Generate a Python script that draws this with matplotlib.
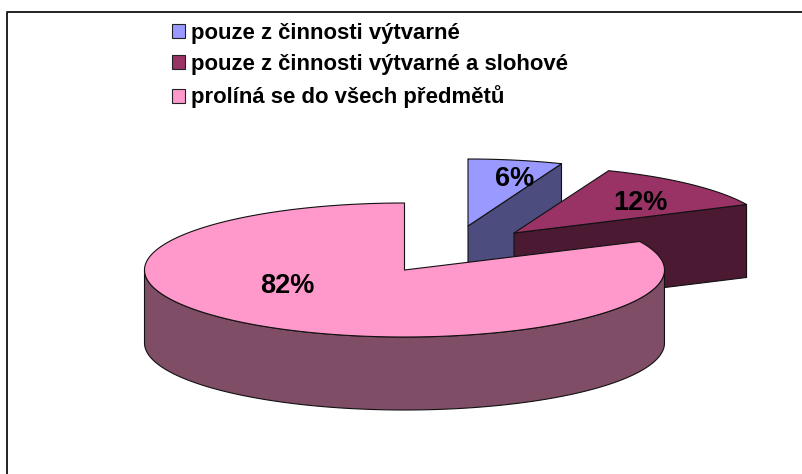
import numpy as np
import matplotlib
matplotlib.use("Agg")
import matplotlib.pyplot as plt
from matplotlib.patches import Patch

categories = ["pouze z činnosti výtvarné", "pouze z činnosti výtvarné a slohové", "prolíná se do všech předmětů"]
values = [6, 12, 82]
labels = ["6%", "12%", "82%"]
top_colors = ["#9999FF", "#993366", "#FF99CC"]
side_colors = ["#4C4C7F", "#4C1933", "#804D66"]

W, H = 803, 474
RADII_X = [254, 257, 260]
RY, DEPTH = 67, 73
apexes = [(468, 226), (514, 233), (404.5, 270)]
label_pos = [(515, 179), (640, 203), (287, 286)]

plt.rcParams["font.family"] = ["Liberation Sans", "DejaVu Sans"]
fig = plt.figure(figsize=(W / 100, H / 100), dpi=100)
ax = fig.add_axes([0, 0, 1, 1])
ax.set_xlim(0, W)
ax.set_ylim(H, 0)
ax.axis("off")

# chart frame: left and top edges only, the rest is cropped away
ax.plot([7.5, 7.5, W], [H, 11.5, 11.5], color="#222222", lw=1.4, zorder=1)


def point(apex, rx, ang):
    return apex[0] + rx * np.sin(ang), apex[1] - RY * np.cos(ang)


edge = dict(edgecolor="#111111", linewidth=0.8, joinstyle="round")
fractions = np.cumsum([0] + values) / sum(values) * 2 * np.pi
for i, (apex, rx, a0, a1) in enumerate(zip(apexes, RADII_X, fractions[:-1], fractions[1:])):
    z = 2 + i * 3
    t = np.linspace(a0, a1, 240)
    x, y = point(apex, rx, t)
    vis = t[(t >= np.pi / 2) & (t <= 3 * np.pi / 2)]
    if vis.size:
        vx, vy = point(apex, rx, vis)
        ax.fill(np.r_[vx, vx[::-1]], np.r_[vy, vy[::-1] + DEPTH], facecolor=side_colors[i], zorder=z, **edge)
    if i < 2:
        ex, ey = point(apex, rx, a1)
        ax.fill([apex[0], ex, ex, apex[0]], [apex[1], ey, ey + DEPTH, apex[1] + DEPTH],
                facecolor=side_colors[i], zorder=z, **edge)
    ax.fill(np.r_[apex[0], x], np.r_[apex[1], y], facecolor=top_colors[i], zorder=z + 1, **edge)
    ax.text(*label_pos[i], labels[i], fontsize=19.5, fontweight="bold", color="black",
            ha="center", va="center", zorder=20)

handles = [Patch(facecolor=c, edgecolor="#222222", linewidth=0.8) for c in top_colors]
ax.legend(handles, categories, loc="upper left", bbox_to_anchor=(172 / W, 1 - 23 / H),
          frameon=False, handlelength=0.6, handleheight=0.6, handletextpad=0.25,
          labelspacing=0.46, borderpad=0, borderaxespad=0,
          prop={"family": "Liberation Sans", "weight": "bold", "size": 15.9})
fig.savefig("out.png", dpi=100, facecolor="white")
